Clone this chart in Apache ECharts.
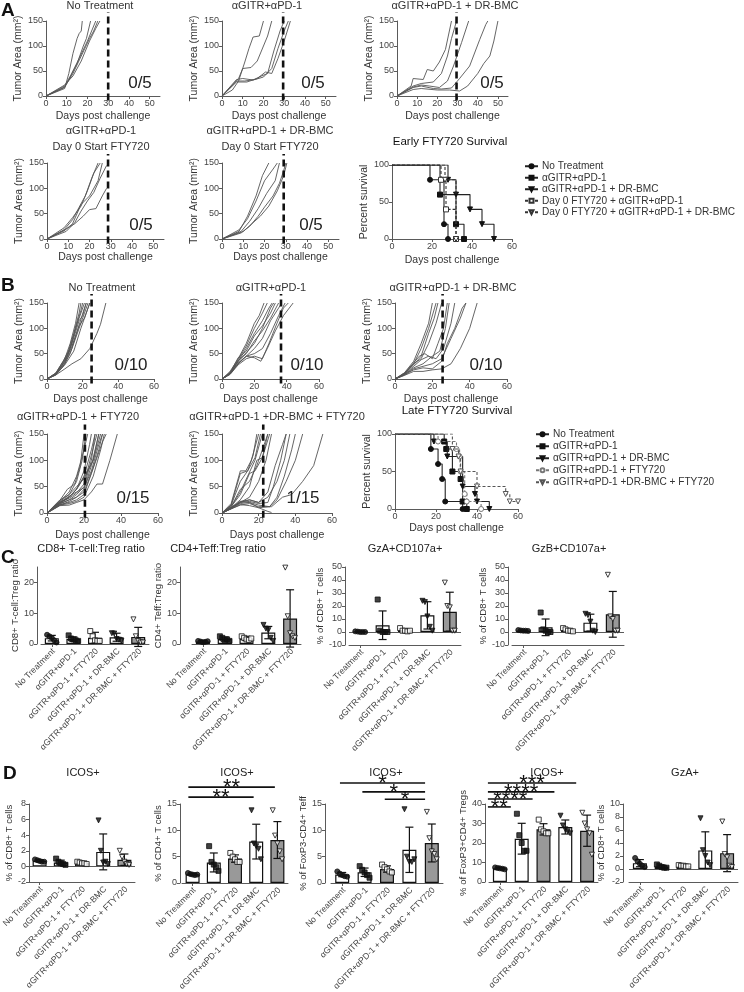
<!DOCTYPE html>
<html><head><meta charset="utf-8">
<script src="https://cdn.jsdelivr.net/npm/echarts@6/dist/echarts.min.js"></script>
<style>html,body{margin:0;padding:0;background:#fff}#c{width:744px;height:992px}</style>
</head><body><div id="c"></div>
<script>
// ---------------- DATA ----------------
const groupLabels = ['No Treatment','αGITR+αPD-1','αGITR+αPD-1 + FTY720','αGITR+αPD-1 + DR-BMC','αGITR+αPD-1 + DR-BMC + FTY720'];
const tumorXTicksA = [0,10,20,30,40,50];
const tumorXTicksB = [0,20,40,60];
const tumorYTicks = [0,50,100,150];

// Panel A tumor growth curves  [day, mm²]
const tumorA_noTx = [
 [[0,0],[9,15],[11,45],[13,85],[15,115],[16,125],[17,130],[17.5,150]],
 [[0,0],[9,17],[12,40],[15,65],[18,100],[19.5,115],[21.5,150]],
 [[0,0],[9,20],[12,42],[16,75],[20,110],[23,140],[24,150]],
 [[0,0],[9,18],[13,45],[17,80],[21,115],[23,130],[25,150]],
 [[0,0],[9,22],[13,40],[17,70],[21,110],[24,135],[26,150]]];
const tumorA_gp = [
 [[0,0],[5,12],[8,30],[11,68],[13,95],[15,118],[18,120],[20,150]],
 [[0,0],[8,35],[10,55],[14,57],[17,70],[20,100],[22,120],[24,150]],
 [[0,0],[7,33],[10,35],[15,32],[19,40],[22,45],[25,90],[28,130],[30,150]],
 [[0,0],[7,30],[11,30],[16,33],[20,38],[24,55],[27,95],[30,130],[32,150]],
 [[0,0],[7,28],[12,28],[17,35],[21,48],[24,45],[27,75],[30,110],[33,150]]];
const tumorA_dr = [
 [[0,0],[7,20],[8,35],[13,33],[15,53],[18,50],[21,68],[24,93],[27,150]],
 [[0,0],[8,20],[12,25],[18,28],[22,45],[25,80],[27,115],[29.5,150]],
 [[0,0],[8,18],[12,22],[16,20],[21,17],[25,30],[28,60],[32,107],[35.5,150]],
 [[0,0],[8,17],[12,20],[18,15],[22,14],[27,16],[31,35],[36,60],[41,113],[44,143],[45,150]],
 [[0,0],[8,13],[12,15],[20,12],[26,12],[31,10],[35,20],[40,45],[43,65],[46,80],[48,110],[50,150]]];
const tumorA_ftyGp = [
 [[0,0],[8,18],[12,38],[15,62],[18,85],[21,120],[23,140],[24,150]],
 [[0,0],[8,22],[12,42],[16,65],[19,95],[22,130],[25,150]],
 [[0,0],[9,15],[13,32],[16,55],[19,75],[22,92],[25,120],[28,145]],
 [[0,0],[9,20],[13,30],[17,45],[20,58],[23,60],[26,85],[28,100]],
 [[0,0],[8,16],[12,30],[16,68],[20,85],[24,115],[26,150]]];
const tumorA_ftyDr = [
 [[0,0],[8,15],[12,45],[16,85],[19,125],[22,150]],
 [[0,0],[8,18],[12,40],[16,75],[20,115],[24,138],[26,150]],
 [[0,0],[9,15],[13,35],[17,60],[21,90],[25,115],[27,150]],
 [[0,0],[9,12],[13,25],[17,45],[20,63],[24,85],[27,110],[29,135],[30,150]],
 [[0,0],[10,15],[14,30],[18,45],[22,65],[26,95],[29,125],[30.5,150]]];

// Panel B tumor growth curves
const tumorB_noTx = [
 [[0,0],[5,12],[9,35],[12,55],[15,90],[18,130],[19,150]],
 [[0,0],[5,10],[9,30],[12,50],[16,100],[19,135],[20,150]],
 [[0,0],[5,10],[10,35],[13,60],[17,110],[21,150]],
 [[0,0],[5,11],[10,38],[14,70],[18,115],[20,125],[22,150]],
 [[0,0],[5,9],[10,30],[14,60],[18,100],[21,130],[23,150]],
 [[0,0],[5,10],[10,33],[14,65],[18,105],[21,120],[24,150]],
 [[0,0],[5,8],[9,25],[13,50],[17,95],[21,140],[22,150]],
 [[0,0],[5,12],[10,40],[13,70],[16,110],[18,150]],
 [[0,0],[5,9],[10,28],[15,55],[19,100],[22,130],[24,150]],
 [[0,0],[5,8],[10,20],[14,30],[19,40],[24,60],[28,90],[30,108],[33,150]]];
const tumorB_gp = [
 [[0,0],[5,15],[10,40],[15,70],[20,110],[23,125],[26,150]],
 [[0,0],[5,12],[10,38],[15,65],[20,100],[25,130],[28,150]],
 [[0,0],[5,13],[10,35],[15,60],[20,90],[25,115],[29,140],[31,150]],
 [[0,0],[5,12],[10,42],[15,55],[20,85],[25,105],[30,130],[33,150]],
 [[0,0],[5,11],[10,35],[15,50],[20,75],[25,95],[30,120],[35,150]],
 [[0,0],[5,10],[10,30],[15,45],[20,60],[25,80],[30,115],[35,140],[37,150]],
 [[0,0],[5,10],[10,32],[15,45],[20,50],[25,60],[30,90],[35,125],[39,150]],
 [[0,0],[5,9],[10,28],[15,40],[20,45],[25,40],[29,70],[34,110],[38,140],[41,150]],
 [[0,0],[5,10],[10,30],[15,45],[20,42],[24,35],[28,60],[33,95],[38,125],[44,150]],
 [[0,0],[5,11],[10,36],[15,52],[20,70],[25,100],[30,140],[32,150]]];
const tumorB_dr = [
 [[0,0],[5,12],[10,35],[14,70],[18,110],[20,150]],
 [[0,0],[5,10],[10,30],[14,60],[18,100],[22,150]],
 [[0,0],[5,10],[10,28],[14,45],[18,90],[21,120],[23,150]],
 [[0,0],[5,12],[10,30],[14,40],[18,70],[22,110],[25,150]],
 [[0,0],[5,10],[10,32],[13,45],[16,50],[20,40],[23,70],[26,100],[28,150]],
 [[0,0],[5,9],[10,25],[14,38],[18,45],[22,40],[26,60],[30,110],[32,150]],
 [[0,0],[5,8],[10,20],[15,25],[20,30],[25,40],[30,80],[35,120],[38,150]],
 [[0,0],[5,8],[10,18],[15,22],[20,20],[25,35],[28,70],[32,100],[36,140],[38,150]],
 [[0,0],[5,7],[10,15],[15,15],[20,18],[25,20],[30,30],[35,60],[40,100],[44,150]],
 [[0,0],[5,9],[10,22],[15,30],[20,45],[24,55],[27,100],[29,150]]];
const tumorB_fty = [
 [[0,0],[7,25],[12,35],[16,60],[19,100],[21,150]],
 [[0,0],[7,22],[12,40],[16,70],[20,120],[22,150]],
 [[0,0],[7,20],[12,30],[16,45],[20,80],[23,130],[24,150]],
 [[0,0],[7,18],[12,25],[16,35],[20,50],[24,100],[26,150]],
 [[0,0],[7,20],[12,28],[16,38],[20,55],[24,110],[27,150]],
 [[0,0],[7,15],[12,22],[16,30],[20,45],[24,90],[28,150]],
 [[0,0],[7,18],[12,30],[16,45],[20,70],[24,120],[26,150]],
 [[0,0],[7,16],[12,20],[16,25],[20,35],[24,75],[28,120],[30,150]],
 [[0,0],[7,22],[12,35],[16,50],[20,65],[25,100],[29,150]],
 [[0,0],[7,15],[12,18],[16,22],[20,30],[25,70],[29,120],[31,150]],
 [[0,0],[7,20],[12,32],[16,40],[20,48],[24,80],[28,130],[30,150]],
 [[0,0],[7,17],[12,25],[16,30],[20,40],[25,85],[30,135],[32,150]],
 [[0,0],[7,14],[12,15],[16,20],[20,25],[24,40],[27,55],[30,55],[34,100],[38,150]],
 [[0,0],[7,24],[11,45],[15,55],[18,90],[20,150]],
 [[0,0],[7,20],[12,30],[17,50],[21,75],[25,100],[28,150]]];
const tumorB_ftyDr = [
 [[0,0],[5,15],[10,75],[14,80],[17,110],[19,150]],
 [[0,0],[5,18],[10,80],[13,80],[16,100],[20,150]],
 [[0,0],[5,15],[10,60],[14,80],[18,105],[21,150]],
 [[0,0],[5,12],[10,40],[14,70],[18,100],[22,150]],
 [[0,0],[5,12],[10,45],[15,60],[19,90],[23,130],[25,150]],
 [[0,0],[5,10],[10,25],[15,50],[19,100],[22,105],[26,150]],
 [[0,0],[5,10],[10,20],[15,30],[20,60],[24,100],[27,150]],
 [[0,0],[5,10],[10,22],[15,25],[20,20],[25,40],[29,90],[33,130],[35,150]],
 [[0,0],[5,9],[10,20],[15,22],[20,18],[25,20],[28,50],[32,100],[35,150]],
 [[0,0],[5,8],[10,18],[15,20],[20,15],[26,12],[30,30],[34,70],[38,120],[40,150]],
 [[0,0],[5,8],[10,15],[15,18],[20,12],[27,12],[33,30],[38,35],[44,60],[50,90],[55,150]],
 [[0,0],[5,8],[10,16],[15,14],[20,10],[26,12],[30,25],[35,60],[40,100],[44,150]],
 [[0,0],[5,9],[10,20],[15,25],[20,20],[25,30],[30,60],[34,100],[37,150]],
 [[0,0],[5,10],[10,22],[15,20],[20,10],[25,3],[27,1]],
 [[0,0],[5,12],[10,35],[15,75],[18,80],[22,105],[25,150]]];

// Survival curves [day, percent]
const earlyNames = ['No Treatment','αGITR+αPD-1','αGITR+αPD-1 + DR-BMC','Day 0 FTY720 + αGITR+αPD-1','Day 0 FTY720 + αGITR+αPD-1 + DR-BMC'];
const earlyNoTx = [[0,100],[19,80],[26,20],[28,0]];
const earlyGp = [[0,100],[24,60],[32,20],[36,0]];
const earlyDr = [[0,100],[28,80],[32,60],[39,40],[45,20],[51,0]];
const earlyFtyGp = [[0,100],[24.5,80],[27,40],[32,0]];
const earlyFtyDr = [[0,100],[26.5,80],[32,0]];
const lateNames = ['No Treatment','αGITR+αPD-1','αGITR+αPD-1 + DR-BMC','αGITR+αPD-1 + FTY720','αGITR+αPD-1 +DR-BMC + FTY720'];
const lateNoTx = [[0,100],[17.5,80],[21,60],[23,40],[24.5,10],[33,0]];
const lateGp = [[0,100],[24,90],[25,80],[28,50],[32,40],[33,10],[35,0]];
const lateDr = [[0,100],[19,90],[25.5,70],[33,30],[39,20],[40,10],[46,0]];
const lateFty = [[0,100],[21,90],[30,80],[31.5,70],[32,50],[34,20],[35,10],[42,0]];
const lateFtyDr = [[0,100],[28,80],[31,70],[32,50],[40,30],[54,20],[56,10],[60,10]];

// Panel C  (mean, SD, individual points per group)
const cCd8Mean = [1.9,1.6,2.0,2.2,2.3];
const cCd8Sd   = [0.9,0.7,1.8,1.3,3.1];
const cCd8Pts  = [[3.0,2.5,2.0,1.2,0.5],[2.8,1.8,1.5,1.2,1.0],[4.2,2.5,1.2,1.0,1.0],[3.5,3.4,1.6,1.4,1.0],[8.0,2.5,1.0,0.5,0.5]];
const cCd4Mean = [0.8,1.6,1.8,3.7,8.3];
const cCd4Sd   = [0.3,0.7,0.7,2.0,9.3];
const cCd4Pts  = [[1.0,0.8,0.6,0.7,0.9],[2.5,2.0,1.2,1.5,1.0],[2.5,2.0,1.5,1.3,1.8],[6.2,5.0,4.5,2.0,1.0],[24.8,9.0,3.5,2.5,2.0]];
const cGzaMean = [0.2,5.2,1.3,12.8,15.6];
const cGzaSd   = [0.3,11.0,1.0,10.5,15.0];
const cGzaPts  = [[0.5,0.3,0,0,0],[25,1,0,0,0],[3,1,1,0.5,1],[24,23,12,4,1],[38,20,19,1,1]];
const cGzbMean = [1.1,3.6,1.5,7.2,13.6];
const cGzbSd   = [0.3,6.4,1.0,6.5,17.6];
const cGzbPts  = [[1.5,1.2,1,1,0.8],[15,2,1,0,0],[3,2,1,1,0.5],[14,13,8,1,0],[44,12,10,1,1]];

// Panel D
const dIcos8Mean = [0.72,0.5,0.44,1.86,0.86];
const dIcos8Sd   = [0.13,0.3,0.1,2.3,0.73];
const dIcos8Pts  = [[0.9,0.8,0.7,0.6,0.6],[1.0,0.6,0.4,0.3,0.2],[0.6,0.5,0.4,0.4,0.3],[5.9,2.0,0.5,0.6,0.3],[2.0,1.2,0.6,0.3,0.2]];
const dIcos4Mean = [1.66,3.9,4.64,7.86,8.16];
const dIcos4Sd   = [0.15,1.8,0.7,3.3,3.5];
const dIcos4Pts  = [[1.9,1.7,1.6,1.5,1.6],[7.0,4.0,3.5,3.0,2.3],[5.7,5.0,4.5,4.0,4.0],[13.8,7.5,7.0,6.5,4.5],[13.8,9.0,7.5,6.0,4.5]];
const dIcos4Sig  = [[0,4,18.2,'**'],[0,3,16.3,'**']];
const dTeffMean = [1.6,2.04,2.66,6.3,7.6];
const dTeffSd   = [0.4,0.8,0.6,4.3,3.6];
const dTeffPts  = [[2.2,1.8,1.5,1.3,1.2],[3.2,2.5,2.0,1.5,1.0],[3.5,3.0,2.6,2.2,2.0],[14,5,4,4,4.5],[13.5,8.5,6,5.5,4.5]];
const dTeffSig  = [[0,4,19.0,'*'],[1,4,17.3,'*'],[2,4,15.9,'*']];
const dTregMean = [7.0,22.2,27.0,28.2,26.3];
const dTregSd   = [0.4,7.9,2.9,3.6,8.0];
const dTregPts  = [[7.5,7.2,7.0,6.8,6.5],[35,24,20,16,16],[32,27,26,25,25],[34,29,27,26,25],[35.5,30,27,25,14]];
const dTregSig  = [[0,4,50.8,'***'],[0,3,46.2,'****'],[0,2,42.6,'****'],[0,1,38.5,'**']];
const dGzaMean = [0.9,0.38,0.48,2.86,2.44];
const dGzaSd   = [0.55,0.2,0.1,2.86,2.85];
const dGzaPts  = [[1.7,1.2,0.8,0.5,0.3],[0.7,0.5,0.3,0.2,0.2],[0.6,0.5,0.5,0.4,0.4],[7.8,2.9,2.0,1.0,0.6],[7.3,2.3,1.8,0.5,0.3]];

// ---------------- BUILD ----------------
const F = 'Arial, "Liberation Sans", Helvetica, sans-serif';
const AXC = '#5a5a5a', LBL = '#444', TXT = '#333', INK = '#111';
const grids=[], xAxes=[], yAxes=[], series=[], legends=[], graphic=[], labelJobs=[];

function txt(x,y,s,size,o){ o=o||{}; graphic.push({type:'text', x:x, y:y, z:100, silent:true,
  style:{text:s, fontSize:size, fontFamily:F, fontWeight:o.weight||'normal', fill:o.color||TXT, align:o.align||'center', verticalAlign:o.valign||'middle'}}); }
const axLine = {show:true, onZero:false, lineStyle:{color:AXC, width:1}};
const axTick = {show:true, length:3, lineStyle:{color:AXC, width:1}};
const axLab = {color:LBL, fontSize:9, fontFamily:F, margin:3};
const nameStyle = (s)=>({fontSize:s||10.5, color:TXT, fontFamily:F});

const groupSym = [
 {symbol:'circle', rot:0, fill:INK},
 {symbol:'rect', rot:0, fill:INK},
 {symbol:'rect', rot:0, fill:'#fff'},
 {symbol:'triangle', rot:180, fill:INK},
 {symbol:'triangle', rot:180, fill:'#fff'}];

function tumorPlot(p){
  const gi=grids.length; grids.push({left:p.left, top:p.top, width:p.width, height:p.height, outerBoundsMode:'none'});
  const xi=xAxes.length, yi=yAxes.length;
  xAxes.push({type:'value', gridIndex:gi, min:0, max:p.xmax, axisLine:axLine,
    axisTick:Object.assign({}, axTick, {customValues:p.xticks}), axisLabel:Object.assign({}, axLab, {customValues:p.xticks}),
    splitLine:{show:false}, name:'Days post challenge', nameLocation:'middle', nameGap:p.ngx, nameTextStyle:nameStyle(10.5)});
  yAxes.push({type:'value', gridIndex:gi, min:0, max:150, axisLine:axLine,
    axisTick:Object.assign({}, axTick, {customValues:tumorYTicks}), axisLabel:Object.assign({}, axLab, {customValues:tumorYTicks}),
    splitLine:{show:false}, name:'Tumor Area (mm²)', nameLocation:'middle', nameGap:19, nameTextStyle:nameStyle(10.5)});
  p.data.forEach(d=>series.push({type:'line', xAxisIndex:xi, yAxisIndex:yi, data:d, symbol:'none', silent:true,
    lineStyle:{color:'#555', width:0.9}, z:2}));
  series.push({type:'line', xAxisIndex:xi, yAxisIndex:yi, data:[[p.dash,-9],[p.dash,168]], symbol:'none', clip:false, silent:true,
    lineStyle:{color:INK, width:2.6, type:[7,4]}, z:3});
  p.title.forEach((t,k)=>txt(p.tx, p.ty+k*16, t, 11));
  txt(p.cx, p.cy, p.count, 17, {color:'#222'});
}

function survivalPlot(p){
  const gi=grids.length; grids.push({left:p.left, top:p.top, width:p.width, height:p.height, outerBoundsMode:'none'});
  const xi=xAxes.length, yi=yAxes.length;
  xAxes.push({type:'value', gridIndex:gi, min:0, max:60, interval:20, axisLine:axLine, axisTick:axTick, axisLabel:axLab,
    splitLine:{show:false}, name:'Days post challenge', nameLocation:'middle', nameGap:p.ngx, nameTextStyle:nameStyle(10.5)});
  yAxes.push({type:'value', gridIndex:gi, min:0, max:100, interval:50, axisLine:axLine, axisTick:axTick, axisLabel:axLab,
    splitLine:{show:false}, name:'Percent survival', nameLocation:'middle', nameGap:20, nameTextStyle:nameStyle(10.5)});
  p.curves.forEach((c,k)=>{
    const st=p.styles[k];
    series.push({type:'line', name:p.names[k], step:'end', xAxisIndex:xi, yAxisIndex:yi,
      data:c.map((v,i)=> i===0 ? {value:v, symbol:'none'} : v),
      symbol:st.symbol, symbolRotate:st.rot||0, symbolSize:5, showSymbol:true, showAllSymbol:true,
      itemStyle:{color:st.fill, borderColor:st.stroke||INK, borderWidth:1},
      lineStyle:{color:st.stroke||'#222', width:1.1, type:st.dash?[3,2]:'solid'}, z:3+k});
  });
  legends.push({data:p.names, orient:'vertical', left:p.lx, top:p.ly, padding:0, itemWidth:13, itemHeight:5, itemGap:p.lgap,
    selectedMode:false, textStyle:{fontSize:10.1, color:TXT, fontFamily:F, lineHeight:10.5, padding:[0,0,0,-1]}});
  txt(p.tx, p.ty, p.title, 11.5, {color:INK});
}

function errRender(params, api){
  const i=api.value(0), m=api.value(1), s=api.value(2);
  const a=api.coord([i,m+s]), b=api.coord([i,m-s]), w=4;
  const st={stroke:INK, lineWidth:1.2};
  return {type:'group', children:[
    {type:'line', shape:{x1:a[0],y1:a[1],x2:b[0],y2:b[1]}, style:st},
    {type:'line', shape:{x1:a[0]-w,y1:a[1],x2:a[0]+w,y2:a[1]}, style:st},
    {type:'line', shape:{x1:b[0]-w,y1:b[1],x2:b[0]+w,y2:b[1]}, style:st}]};
}

function barPlot(p){
  const gi=grids.length; grids.push({left:p.left, top:p.top, width:p.width, height:p.height, outerBoundsMode:'none'});
  const xc=xAxes.length;
  xAxes.push({type:'category', gridIndex:gi, data:groupLabels, axisLine:axLine,
    axisTick:Object.assign({}, axTick, {alignWithLabel:true}), axisLabel:{show:false}});
  labelJobs.push({xc:xc, y:p.top+p.height+6});
  const xv=xAxes.length;
  xAxes.push({type:'value', gridIndex:gi, min:-0.5, max:4.5, show:false});
  const yi=yAxes.length;
  const ticks=[]; for(let v=p.ymin; v<=p.ymax+1e-9; v+=p.step) ticks.push(+v.toFixed(3));
  yAxes.push({type:'value', gridIndex:gi, min:p.ymin, max:p.ymax, offset:p.offset, axisLine:axLine,
    axisTick:Object.assign({}, axTick, {customValues:ticks}), axisLabel:Object.assign({}, axLab, {customValues:ticks}),
    splitLine:{show:false}, name:p.yname, nameLocation:'middle', nameGap:p.ngy, nameTextStyle:nameStyle(9.5)});
  const bar={type:'bar', xAxisIndex:xc, yAxisIndex:yi, barWidth:14, silent:true, z:2,
    data:p.mean.map((m,i)=>({value:m, itemStyle:{color:p.fills[i], borderColor:INK, borderWidth:1.2}}))};
  if(p.ymin<0) bar.markLine={silent:true, symbol:'none', label:{show:false}, lineStyle:{color:AXC, width:1, type:'solid'}, data:[{yAxis:0}]};
  series.push(bar);
  series.push({type:'custom', xAxisIndex:xc, yAxisIndex:yi, data:p.mean.map((m,i)=>[i,m,p.sd[i]]), renderItem:errRender, z:4, silent:true});
  p.pts.forEach((arr,g)=>{
    const s=groupSym[g];
    series.push({type:'scatter', xAxisIndex:xv, yAxisIndex:yi, silent:true, z:5,
      data:arr.map((v,j)=>[g+(j-(arr.length-1)/2)*0.11, v]),
      symbol:s.symbol, symbolRotate:s.rot, symbolSize:5, itemStyle:{color:s.fill, borderColor:INK, borderWidth:1}});
  });
  if(p.sig){
    series.push({type:'custom', xAxisIndex:xv, yAxisIndex:yi, silent:true, z:6, clip:false,
      data:p.sig.map(s=>[s[0]+p.sigA, s[1]+p.sigB, s[2]]),
      renderItem:function(params, api){
        const a=api.coord([api.value(0), api.value(2)]), b=api.coord([api.value(1), api.value(2)]);
        return {type:'group', children:[
          {type:'line', shape:{x1:a[0],y1:a[1],x2:b[0],y2:b[1]}, style:{stroke:INK, lineWidth:1.6}},
          {type:'text', x:(a[0]+b[0])/2, y:a[1]+1, style:{text:p.sig[params.dataIndex][3], fontSize:22, fontFamily:F, fill:INK, align:'center', verticalAlign:'middle'}}]};
      }});
  }
  txt(p.tx, p.ty, p.title, 11, {color:'#222'});
}

// ---- Panel A ----
tumorPlot({data:tumorA_noTx, left:46, top:21, width:114, height:75, xmax:55, xticks:tumorXTicksA, dash:30, ngx:15, title:['No Treatment'], tx:100, ty:6, count:'0/5', cx:140, cy:83});
tumorPlot({data:tumorA_gp, left:222, top:21, width:114, height:75, xmax:55, xticks:tumorXTicksA, dash:29.5, ngx:15, title:['αGITR+αPD-1'], tx:267, ty:6, count:'0/5', cx:313, cy:83});
tumorPlot({data:tumorA_dr, left:397, top:21, width:111, height:75, xmax:55, xticks:tumorXTicksA, dash:29.5, ngx:15, title:['αGITR+αPD-1 + DR-BMC'], tx:455, ty:6, count:'0/5', cx:492, cy:83});
tumorPlot({data:tumorA_ftyGp, left:47, top:163, width:117, height:76, xmax:55, xticks:tumorXTicksA, dash:28.7, ngx:13, title:['αGITR+αPD-1','Day 0 Start FTY720'], tx:101, ty:131, count:'0/5', cx:141, cy:225});
tumorPlot({data:tumorA_ftyDr, left:222, top:163, width:117, height:76, xmax:55, xticks:tumorXTicksA, dash:29, ngx:13, title:['αGITR+αPD-1 + DR-BMC','Day 0 Start FTY720'], tx:270, ty:131, count:'0/5', cx:311, cy:225});
survivalPlot({left:392, top:165, width:120, height:74, ngx:16, names:earlyNames,
  curves:[earlyNoTx, earlyGp, earlyDr, earlyFtyGp, earlyFtyDr],
  styles:[{symbol:'circle',fill:INK},{symbol:'rect',fill:INK},{symbol:'triangle',rot:180,fill:INK},{symbol:'rect',fill:'#fff',dash:true,stroke:'#333'},{symbol:'triangle',rot:180,fill:'#fff',dash:true,stroke:'#333'}],
  lx:524, ly:161, lgap:1, title:'Early FTY720 Survival', tx:450, ty:142});

// ---- Panel B ----
tumorPlot({data:tumorB_noTx, left:47, top:303, width:107, height:76, xmax:60, xticks:tumorXTicksB, dash:25, ngx:15, title:['No Treatment'], tx:102, ty:288, count:'0/10', cx:131, cy:365});
tumorPlot({data:tumorB_gp, left:222, top:303, width:97, height:76, xmax:60, xticks:tumorXTicksB, dash:36.5, ngx:15, title:['αGITR+αPD-1'], tx:271, ty:288, count:'0/10', cx:307, cy:365});
tumorPlot({data:tumorB_dr, left:395, top:303, width:112, height:76, xmax:60, xticks:tumorXTicksB, dash:25.5, ngx:15, title:['αGITR+αPD-1 + DR-BMC'], tx:453, ty:288, count:'0/10', cx:486, cy:365});
tumorPlot({data:tumorB_fty, left:47, top:434, width:111, height:79, xmax:60, xticks:tumorXTicksB, dash:20.5, ngx:17, title:['αGITR+αPD-1 + FTY720'], tx:78, ty:417, count:'0/15', cx:133, cy:498});
tumorPlot({data:tumorB_ftyDr, left:222, top:434, width:110, height:79, xmax:60, xticks:tumorXTicksB, dash:22.5, ngx:17, title:['αGITR+αPD-1 +DR-BMC + FTY720'], tx:277, ty:417, count:'1/15', cx:303, cy:498});
survivalPlot({left:395, top:434, width:123, height:75, ngx:14, names:lateNames,
  curves:[lateNoTx, lateGp, lateDr, lateFty, lateFtyDr],
  styles:[{symbol:'circle',fill:INK},{symbol:'rect',fill:INK},{symbol:'triangle',rot:180,fill:INK},{symbol:'circle',fill:'#fff',dash:true,stroke:'#777'},{symbol:'triangle',rot:180,fill:'#fff',dash:true,stroke:'#555'}],
  lx:535, ly:429, lgap:1.5, title:'Late FTY720 Survival', tx:457, ty:411});

// ---- Panel C ----
const fillsC=['#fff','#fff','#fff','#fff','#999'];
const fillsD=['#fff','#fff','#999','#fff','#999'];
barPlot({left:41, top:567, width:108, height:77, offset:4, ymin:0, ymax:25, step:10, mean:cCd8Mean, sd:cCd8Sd, pts:cCd8Pts, fills:fillsC, yname:'CD8+ T-cell:Treg ratio', ngy:14, title:'CD8+ T-cell:Treg ratio', tx:91, ty:549});
barPlot({left:192, top:567, width:109, height:77, offset:12, ymin:0, ymax:25, step:10, mean:cCd4Mean, sd:cCd4Sd, pts:cCd4Pts, fills:fillsC, yname:'CD4+ Teff:Treg ratio', ngy:14, title:'CD4+Teff:Treg ratio', tx:218, ty:549});
barPlot({left:349, top:567, width:112, height:78, offset:4, ymin:-10, ymax:50, step:10, mean:cGzaMean, sd:cGzaSd, pts:cGzaPts, fills:fillsC, yname:'% of CD8+ T cells', ngy:18, title:'GzA+CD107a+', tx:405, ty:549});
barPlot({left:512, top:567, width:112, height:78, offset:4, ymin:-10, ymax:50, step:10, mean:cGzbMean, sd:cGzbSd, pts:cGzbPts, fills:fillsC, yname:'% of CD8+ T cells', ngy:18, title:'GzB+CD107a+', tx:569, ty:549});

// ---- Panel D ----
barPlot({left:29, top:804, width:106, height:78, offset:0, ymin:-2, ymax:8, step:2, mean:dIcos8Mean, sd:dIcos8Sd, pts:dIcos8Pts, fills:fillsD, yname:'% of CD8+ T cells', ngy:12, title:'ICOS+', tx:83, ty:773});
barPlot({left:182, top:804, width:106, height:79, offset:2, ymin:0, ymax:15, step:5, mean:dIcos4Mean, sd:dIcos4Sd, pts:dIcos4Pts, fills:fillsD, yname:'% of CD4+ T cells', ngy:14, title:'ICOS+', tx:237, ty:773, sig:dIcos4Sig, sigA:-0.2, sigB:-0.12});
barPlot({left:331, top:804, width:112, height:79, offset:6, ymin:0, ymax:15, step:5, mean:dTeffMean, sd:dTeffSd, pts:dTeffPts, fills:fillsD, yname:'% of FoxP3-CD4+ Teff', ngy:14, title:'ICOS+', tx:386, ty:773, sig:dTeffSig, sigA:-0.1, sigB:-0.3});
barPlot({left:489, top:804, width:109, height:78, offset:4, ymin:0, ymax:40, step:10, mean:dTregMean, sd:dTregSd, pts:dTregPts, fills:fillsD, yname:'% of FoxP3+CD4+ Tregs', ngy:14, title:'ICOS+', tx:547, ty:773, sig:dTregSig, sigA:-0.55, sigB:-0.5});
barPlot({left:629, top:804, width:109, height:78, offset:6, ymin:-2, ymax:10, step:2, mean:dGzaMean, sd:dGzaSd, pts:dGzaPts, fills:fillsD, yname:'% of CD8+ T cells', ngy:12, title:'GzA+', tx:685, ty:773});

// panel letters
txt(1,1,'A',19,{weight:'bold',color:INK,align:'left',valign:'top'});
txt(1,276,'B',19,{weight:'bold',color:INK,align:'left',valign:'top'});
txt(1,548,'C',19,{weight:'bold',color:INK,align:'left',valign:'top'});
txt(3,764,'D',19,{weight:'bold',color:INK,align:'left',valign:'top'});

const chart = echarts.init(document.getElementById('c'), null, {renderer:'canvas', width:744, height:992});
chart.setOption({animation:false, backgroundColor:'#fff', textStyle:{fontFamily:F},
  grid:grids, xAxis:xAxes, yAxis:yAxes, series:series, legend:legends, tooltip:{show:false}});
// rotated category labels placed at the category positions of each bar axis
labelJobs.forEach(job=>{
  groupLabels.forEach((s,i)=>{
    const px = chart.convertToPixel({xAxisIndex:job.xc}, i);
    graphic.push({type:'text', x:px+2, y:job.y, rotation:Math.PI/4, silent:true, z:100,
      style:{text:s, fontSize:8.6, fontFamily:F, fill:LBL, align:'right', verticalAlign:'middle'}});
  });
});
chart.setOption({graphic:graphic});
</script></body></html>
